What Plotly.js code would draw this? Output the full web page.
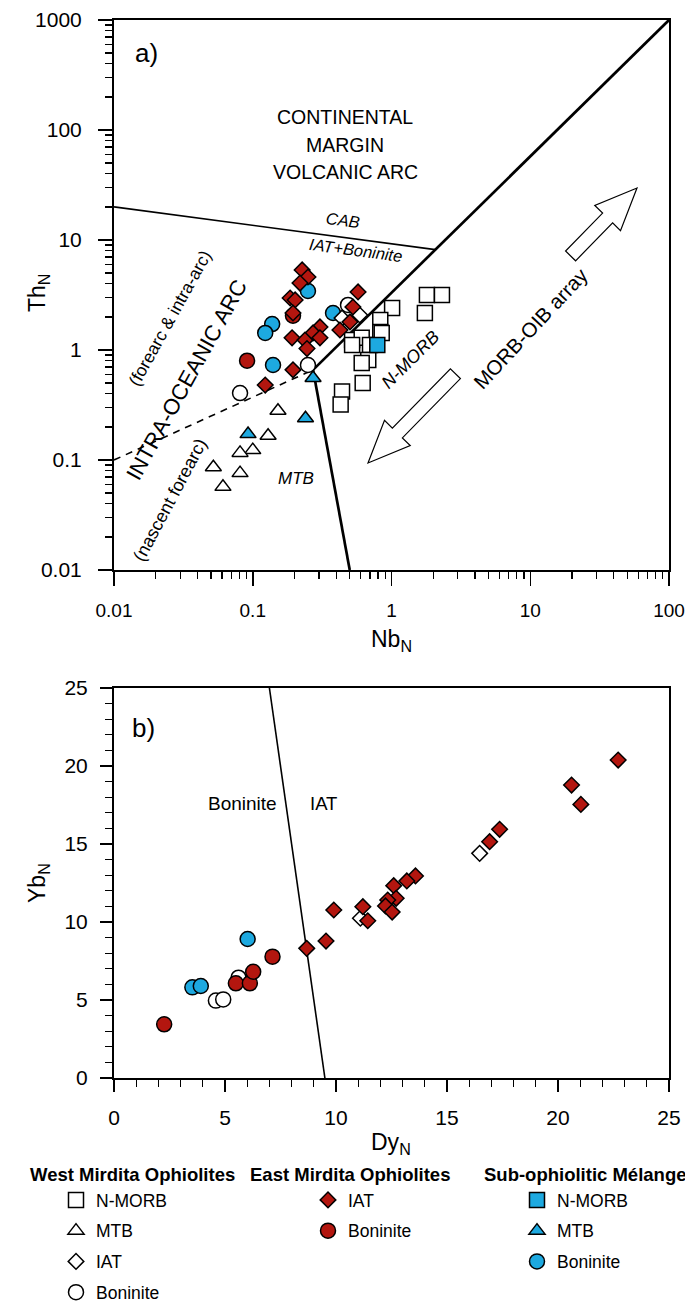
<!DOCTYPE html>
<html><head><meta charset="utf-8">
<script src="https://cdn.plot.ly/plotly-3.0.1.min.js"></script>
<style>html,body{margin:0;padding:0;background:#fff}#chart{width:685px;height:1305px}</style>
</head><body><div id="chart"></div>
<script>
// ---------- Panel a: Th_N vs Nb_N (log-log) ----------
const westNMORB_Nb = [1.01, 1.80, 2.31, 1.74, 0.83, 0.83, 0.52, 0.61, 0.52, 0.70, 0.85, 0.68, 0.61, 0.62, 0.44, 0.43];
const westNMORB_Th = [2.41, 3.16, 3.16, 2.17, 1.87, 1.46, 1.23, 1.29, 1.11, 1.11, 1.43, 0.81, 0.76, 0.50, 0.42, 0.32];
const westMTB_Nb = [0.152, 0.129, 0.100, 0.081, 0.052, 0.081, 0.061];
const westMTB_Th = [0.28, 0.166, 0.123, 0.116, 0.086, 0.076, 0.057];
const westIAT_Nb = [0.44, 0.59];
const westIAT_Th = [1.95, 2.08];
const westBon_Nb = [0.486, 0.25, 0.081];
const westBon_Th = [2.57, 0.73, 0.406];
const eastIAT_Nb = [0.227, 0.250, 0.219, 0.186, 0.202, 0.195, 0.574, 0.527, 0.502, 0.425, 0.305, 0.272, 0.305, 0.192, 0.238, 0.246, 0.195, 0.123];
const eastIAT_Th = [5.34, 4.61, 4.06, 2.97, 2.85, 2.17, 3.37, 2.46, 1.80, 1.52, 1.62, 1.43, 1.29, 1.29, 1.23, 1.03, 0.66, 0.48];
const eastBon_Nb = [0.091, 0.195];
const eastBon_Th = [0.80, 2.05];
const subNMORB_Nb = [0.79];
const subNMORB_Th = [1.11];
const subMTB_Nb = [0.272, 0.24, 0.0925];
const subMTB_Th = [0.556, 0.24, 0.172];
const subBon_Nb = [0.25, 0.138, 0.123, 0.14, 0.379];
const subBon_Th = [3.44, 1.72, 1.43, 0.73, 2.17];

// discrimination boundaries (panel a)
const cabLine_Nb = [0.01, 2.07], cabLine_Th = [20, 8.17];
const arrayLine_Nb = [0.272, 100], arrayLine_Th = [0.66, 1000];
const mtbLine_Nb = [0.272, 0.5], mtbLine_Th = [0.66, 0.01];
const forearcLine_Nb = [0.01, 0.272], forearcLine_Th = [0.1, 0.66];

// ---------- Panel b: Yb_N vs Dy_N ----------
const westIAT_Dy = [11.1, 16.47];
const westIAT_Yb = [10.24, 14.40];
const westBon_Dy = [4.59, 4.92, 5.61];
const westBon_Yb = [4.96, 5.04, 6.43];
const eastIAT_Dy = [8.68, 9.55, 9.9, 22.71, 20.61, 21.03, 17.37, 16.92, 13.58, 13.19, 12.60, 12.71, 12.33, 12.23, 12.53, 11.21, 11.43];
const eastIAT_Yb = [8.31, 8.78, 10.77, 20.38, 18.78, 17.54, 15.94, 15.15, 12.95, 12.63, 12.33, 11.52, 11.41, 11.03, 10.64, 10.98, 10.08];
const eastBon_Dy = [2.26, 5.49, 6.12, 6.27, 7.14];
const eastBon_Yb = [3.44, 6.07, 6.07, 6.81, 7.78];
const subBon_Dy = [3.53, 3.91, 6.02];
const subBon_Yb = [5.81, 5.90, 8.91];
const bonIatLine_Dy = [7.0, 9.5], bonIatLine_Yb = [25, 0];

// ---------- tick labels ----------
const nbTickVals = [0.01, 0.1, 1, 10, 100];
const nbTickText = ['0.01', '0.1', '1', '10', '100'];
const thTickVals = [0.01, 0.1, 1, 10, 100, 1000];
const thTickText = ['0.01', '0.1', '1', '10', '100', '1000'];
const linTickVals = [0, 5, 10, 15, 20, 25];
const linTickText = ['0', '5', '10', '15', '20', '25'];

// ---------- style ----------
const FONT = 'Liberation Sans, Arial, Helvetica, sans-serif';
const RED = '#B3160F', BLUE = '#1DA9E0', WHITE = '#FFFFFF';
const W = 685, H = 1305;
const PL = 114, PR = 669, PT = 20, PB = 1078;
const px = v => (v - PL) / (PR - PL);
const py = v => (PB - v) / (PB - PT);

function minorLog(lo, hi) {
  const out = [];
  for (let e = lo; e < hi; e++) for (let m = 2; m <= 9; m++) out.push(m * Math.pow(10, e));
  return out;
}
const minorLin = [];
for (let i = 0; i <= 25; i++) if (i % 5) minorLin.push(i);

const mk = (symbol, color, size) => ({symbol: symbol, size: size, color: color, line: {color: '#000', width: 1.5}});

const traces = [];
function line(x, y, xa, ya, width, dash) {
  traces.push({x: x, y: y, xaxis: xa, yaxis: ya, mode: 'lines', showlegend: false, hoverinfo: 'skip',
    line: {color: '#000', width: width, dash: dash || 'solid'}});
}
line(cabLine_Nb, cabLine_Th, 'x', 'y', 1.6);
line(arrayLine_Nb, arrayLine_Th, 'x', 'y', 2.7);
line(mtbLine_Nb, mtbLine_Th, 'x', 'y', 2.7);
line(forearcLine_Nb, forearcLine_Th, 'x', 'y', 1.6, '7px,6px');
line(bonIatLine_Dy, bonIatLine_Yb, 'x2', 'y2', 1.6);

function pts(x, y, xa, ya, marker, name, legend, group, rank, show) {
  traces.push({x: x, y: y, xaxis: xa, yaxis: ya, mode: 'markers', type: 'scatter', name: name,
    marker: marker, legend: legend, legendgroup: group, legendrank: rank, showlegend: show, cliponaxis: false});
}
// panel a
pts(westNMORB_Nb, westNMORB_Th, 'x', 'y', mk('square', WHITE, 15), 'N-MORB', 'legend', 'wN', 1, true);
pts(westMTB_Nb, westMTB_Th, 'x', 'y', mk('triangle-up', WHITE, 14), 'MTB', 'legend', 'wM', 2, true);
pts(westBon_Nb, westBon_Th, 'x', 'y', mk('circle', WHITE, 15), 'Boninite', 'legend', 'wB', 4, true);
pts(subBon_Nb, subBon_Th, 'x', 'y', mk('circle', BLUE, 15), 'Boninite', 'legend3', 'sB', 3, true);
pts(eastBon_Nb, eastBon_Th, 'x', 'y', mk('circle', RED, 15), 'Boninite', 'legend2', 'eB', 2, true);
pts(westIAT_Nb, westIAT_Th, 'x', 'y', mk('diamond', WHITE, 12), 'IAT', 'legend', 'wI', 3, true);
pts(eastIAT_Nb, eastIAT_Th, 'x', 'y', mk('diamond', RED, 12), 'IAT', 'legend2', 'eI', 1, true);
pts(subNMORB_Nb, subNMORB_Th, 'x', 'y', mk('square', BLUE, 15), 'N-MORB', 'legend3', 'sN', 1, true);
pts(subMTB_Nb, subMTB_Th, 'x', 'y', mk('triangle-up', BLUE, 14), 'MTB', 'legend3', 'sM', 2, true);
// panel b
pts(westBon_Dy, westBon_Yb, 'x2', 'y2', mk('circle', WHITE, 15), 'Boninite', 'legend', 'wB', 4, false);
pts(subBon_Dy, subBon_Yb, 'x2', 'y2', mk('circle', BLUE, 15), 'Boninite', 'legend3', 'sB', 3, false);
pts(eastBon_Dy, eastBon_Yb, 'x2', 'y2', mk('circle', RED, 15), 'Boninite', 'legend2', 'eB', 2, false);
pts(westIAT_Dy, westIAT_Yb, 'x2', 'y2', mk('diamond', WHITE, 12), 'IAT', 'legend', 'wI', 3, false);
pts(eastIAT_Dy, eastIAT_Yb, 'x2', 'y2', mk('diamond', RED, 12), 'IAT', 'legend2', 'eI', 1, false);

// ---------- axes ----------
function axisBase(extra) {
  return Object.assign({
    showline: true, linewidth: 2, linecolor: '#000', mirror: true, automargin: false,
    showgrid: false, zeroline: false, ticks: 'outside', ticklen: 14, tickwidth: 1.5, tickcolor: '#000',
    tickfont: {size: 21, family: FONT, color: '#000'}, ticklabelstandoff: 8, tickangle: 0,
    ticklabeloverflow: 'allow'
  }, extra);
}
const minorStyle = vals => ({tickmode: 'array', tickvals: vals, ticks: 'outside', ticklen: 7, tickwidth: 1.3, tickcolor: '#000', showgrid: false});

// ---------- annotations ----------
const A = [];
function txt(t, x, y, size, opts) {
  A.push(Object.assign({text: t, x: px(x), y: py(y), xref: 'paper', yref: 'paper', showarrow: false,
    xanchor: 'center', yanchor: 'middle', font: {size: size, family: FONT, color: '#000'}}, opts || {}));
}
txt('a)', 146, 53, 26);
txt('CONTINENTAL', 345, 117, 19.5);
txt('MARGIN', 345, 145, 19.5);
txt('VOLCANIC ARC', 345, 172, 19.5);
txt('<i>CAB</i>', 343, 220, 16.5, {textangle: 7.6});
txt('<i>IAT+Boninite</i>', 356, 250, 16.5, {textangle: 7.6});
txt('(forearc &amp; intra-arc)', 170, 318, 17.5, {textangle: -61});
txt('INTRA-OCEANIC ARC', 186, 380, 22, {textangle: -61});
txt('(nascent forearc)', 170, 500, 18, {textangle: -62});
txt('<i>MTB</i>', 296, 478, 17);
txt('<i>N-MORB</i>', 410, 360, 18, {textangle: -45});
txt('MORB-OIB array', 530, 328, 20.5, {textangle: -47});
txt('Nb<sub>N</sub>', 391, 640, 23);
txt('Th<sub>N</sub>', 38, 293, 23, {textangle: -90});
txt('b)', 143, 728, 26);
txt('Boninite', 242, 803, 19);
txt('IAT', 323, 803, 18.5);
txt('Dy<sub>N</sub>', 391, 1143, 23);
txt('Yb<sub>N</sub>', 38, 883, 23, {textangle: -90});
// legend headers
txt('<b>West Mirdita Ophiolites</b>', 28, 1174, 18.5, {xanchor: 'left'});
txt('<b>East Mirdita Ophiolites</b>', 248, 1174, 18.5, {xanchor: 'left'});
txt('<b>Sub-ophiolitic Mélange</b>', 482, 1174, 18.5, {xanchor: 'left'});

// ---------- hollow arrows (MORB-OIB array) ----------
function arrowPath(tip, dir, len, headLen, headHalf, shaftHalf) {
  const ux = dir[0], uy = dir[1], nx = -uy, ny = ux;
  const bx = tip[0] - ux * headLen, by = tip[1] - uy * headLen;
  const ex = tip[0] - ux * len, ey = tip[1] - uy * len;
  const p = [tip, [bx + nx * headHalf, by + ny * headHalf], [bx + nx * shaftHalf, by + ny * shaftHalf],
    [ex + nx * shaftHalf, ey + ny * shaftHalf], [ex - nx * shaftHalf, ey - ny * shaftHalf],
    [bx - nx * shaftHalf, by - ny * shaftHalf], [bx - nx * headHalf, by - ny * headHalf]];
  return 'M ' + p.map(q => px(q[0]).toFixed(5) + ',' + py(q[1]).toFixed(5)).join(' L ') + ' Z';
}
const u = [0.6992, -0.7148];
const shapes = [
  {type: 'path', xref: 'paper', yref: 'paper', path: arrowPath([637, 188], u, 95, 42, 18, 7), line: {color: '#000', width: 1.2}, fillcolor: 'rgba(0,0,0,0)'},
  {type: 'path', xref: 'paper', yref: 'paper', path: arrowPath([368, 463], [-u[0], -u[1]], 125, 42, 18, 7), line: {color: '#000', width: 1.2}, fillcolor: 'rgba(0,0,0,0)'}
];

const legendBase = (x) => ({
  xref: 'paper', yref: 'paper', x: px(x), y: py(1182), xanchor: 'left', yanchor: 'top',
  orientation: 'v', bgcolor: 'rgba(0,0,0,0)', borderwidth: 0, tracegroupgap: 5,
  font: {size: 17.5, family: FONT, color: '#000'}, itemclick: false, itemdoubleclick: false
});

const layout = {
  width: W, height: H,
  margin: {l: PL, r: W - PR, t: PT, b: H - PB, pad: 0, autoexpand: false},
  paper_bgcolor: '#fff', plot_bgcolor: '#fff',
  font: {family: FONT, color: '#000', size: 17},
  showlegend: true,
  xaxis: axisBase({type: 'log', range: [-2, 2], domain: [0, 1], anchor: 'y', tickmode: 'array', tickvals: nbTickVals, ticktext: nbTickText, tickfont: {size: 19, family: FONT, color: '#000'}, minor: minorStyle(minorLog(-2, 2))}),
  yaxis: axisBase({type: 'log', range: [-2, 3], domain: [py(570), 1], anchor: 'x', tickmode: 'array', tickvals: thTickVals, ticktext: thTickText, ticklabelstandoff: 12, minor: minorStyle(minorLog(-2, 3))}),
  xaxis2: axisBase({range: [0, 25], domain: [0, 1], anchor: 'y2', tickmode: 'array', tickvals: linTickVals, ticktext: linTickText, ticklen: 12, minor: minorStyle(minorLin)}),
  yaxis2: axisBase({range: [0, 25], domain: [0, py(688)], anchor: 'x2', tickmode: 'array', tickvals: linTickVals, ticktext: linTickText, ticklen: 12, minor: minorStyle(minorLin)}),
  legend: legendBase(56),
  legend2: legendBase(308),
  legend3: legendBase(517),
  annotations: A,
  shapes: shapes
};

Plotly.newPlot('chart', traces, layout, {displayModeBar: false, staticPlot: true});
</script>
</body></html>
